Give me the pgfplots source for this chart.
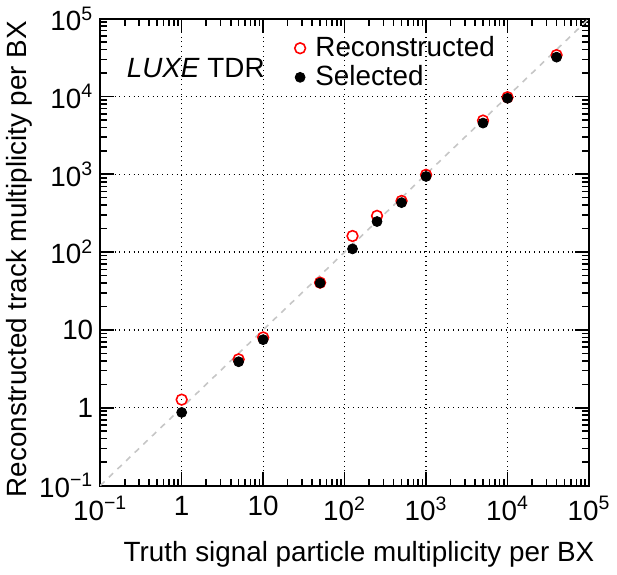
\documentclass[border=0pt]{standalone}
\usepackage{fontspec}
\setmainfont{Liberation Sans}
\usepackage{pgfplots}
\pgfplotsset{compat=1.18}

\begin{document}
\begin{tikzpicture}
\begin{axis}[
  scale only axis,
  width=246pt, height=235pt,
  xmode=log, ymode=log,
  xmin=0.1, xmax=1e5, ymin=0.1, ymax=1e5,
  xtick={0.1,1,10,100,1000,10000,100000},
  ytick={0.1,1,10,100,1000,10000,100000},
  xticklabels={10\textsuperscript{−1},1,10,10\textsuperscript{2},10\textsuperscript{3},10\textsuperscript{4},10\textsuperscript{5}},
  yticklabels={10\textsuperscript{−1},1,10,10\textsuperscript{2},10\textsuperscript{3},10\textsuperscript{4},10\textsuperscript{5}},
  tick label style={font=\fontsize{14}{16}\selectfont},
  xticklabel style={yshift=-2pt},
  label style={font=\fontsize{14}{16}\selectfont},
  grid=major, grid style={black, dotted, line width=0.6pt},
  tick align=inside,
  major tick length=7pt, minor tick length=3.5pt,
  every tick/.style={black, line width=0.8pt},
  axis line style={line width=1pt},
  xlabel={Truth signal particle multiplicity per BX},
  ylabel={Reconstructed track multiplicity per BX},
  xlabel style={at={(axis description cs:1.025,-0.105)}, anchor=north east},
  ylabel style={at={(axis description cs:-0.165,1.01)}, anchor=east},
  legend style={draw=none, fill=none, at={(axis description cs:0.385,0.975)},
                anchor=north west, font=\fontsize{14}{16}\selectfont,
                row sep=1pt, nodes={inner sep=1pt, inner xsep=5pt}},
  legend cell align=left,
]
\addplot[gray!45, dashed, line width=0.8pt, forget plot] coordinates {(0.1,0.1) (1e5,1e5)};
\addplot[only marks, mark=o, red, mark size=2.7pt, mark options={line width=0.8pt}] coordinates {
  (1,1.27) (5,4.19) (10,8.0) (50,40.5) (125,161) (250,292) (500,454)
  (1000,985) (5000,4900) (10000,9770) (40000,34000)};
\addplot[only marks, mark=*, black, mark size=2.5pt] coordinates {
  (1,0.87) (5,3.9) (10,7.5) (50,40) (125,110) (250,247) (500,432)
  (1000,937) (5000,4550) (10000,9480) (40000,32000)};
\legend{Reconstructed, Selected}
\node[anchor=west, font=\fontsize{14}{16}\selectfont] at (axis description cs:0.04,0.894) {\textit{LUXE} TDR};
\end{axis}
\end{tikzpicture}
\end{document}
